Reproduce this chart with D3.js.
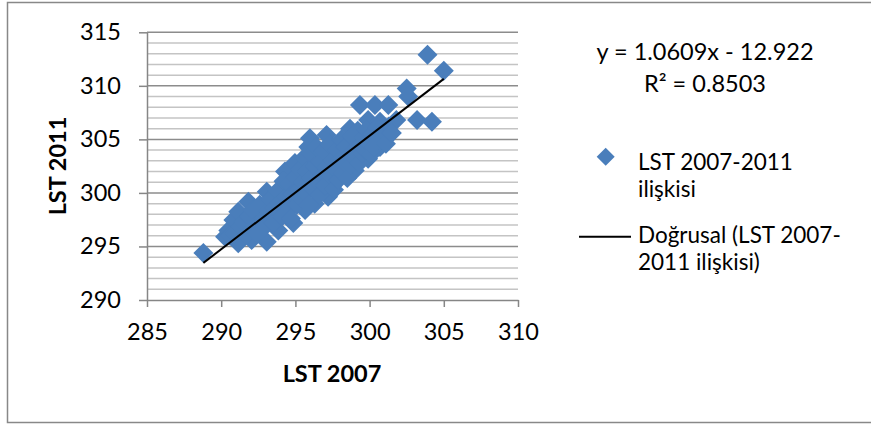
<!DOCTYPE html>
<html><head><meta charset="utf-8">
<script src="https://cdn.jsdelivr.net/npm/d3@7"></script>
<style>body{margin:0;background:#fff;}svg{display:block;font-family:Lato,"Open Sans",sans-serif;}</style>
</head><body>
<svg id="c" width="871" height="425"></svg>
<script>
const lst2007 = [288.8,290.26,290.48,290.82,291.15,291.83,293.07,294.3,294.97,295.87,295.98,297.1,298.68,299.35,300.36,301.26,299.9,302.5,302.6,301.8,303.2,304.2,305.0,303.9,300.7,301.0,300.7,
293.07,291.15,292.05,294.86,295.65,297.2,297.45,299.0,299.9,296.3,293.85,
290.6,290.9,291.3,291.5,291.7,291.9,292.1,292.3,292.4,292.6,292.8,292.9,293.2,293.3,293.5,293.6,293.8,293.9,294.1,294.2,294.4,294.5,294.6,294.7,294.8,295.0,295.1,295.2,295.3,295.4,295.5,295.6,295.7,295.8,295.9,296.0,296.1,296.2,296.3,296.4,296.5,296.6,296.7,296.8,296.9,297.0,297.1,297.3,297.4,297.5,297.6,297.7,297.8,297.9,298.0,298.1,298.2,298.3,298.4,298.5,298.6,298.7,298.8,298.9,299.1,299.2,299.3,299.4,299.5,299.6,299.7,299.8,300.0,300.1,300.2,300.3,300.5,300.6,300.9,301.1,301.3,301.5];
const lst2011 = [294.4,295.9,296.5,297.47,298.25,299.18,300.1,302.0,302.8,304.3,305.1,305.4,306.0,308.2,308.2,308.2,306.8,309.75,309.0,306.8,306.8,306.65,311.4,312.9,306.65,305.1,304.3,
295.45,295.3,295.6,297.2,298.4,299.65,300.6,302.1,303.2,299.0,296.5,
296.0,296.2,296.8,297.3,296.1,297.8,298.4,297.0,296.2,298.9,297.6,296.8,298.3,299.4,297.2,298.6,300.2,299.0,297.8,301.1,299.6,298.3,300.8,297.6,299.9,301.5,298.9,300.3,302.2,299.5,301.0,303.3,300.0,302.0,298.9,301.4,303.6,300.4,302.5,304.3,301.0,299.8,302.9,301.6,303.9,300.7,302.4,304.6,301.5,303.1,300.3,302.2,304.0,301.2,303.0,305.0,301.8,302.9,304.3,301.4,303.5,302.6,305.3,303.9,303.1,305.8,302.8,304.5,303.7,305.2,304.0,305.9,304.6,303.6,305.5,304.3,306.1,305.0,305.8,304.6,306.2,305.6];
const trendSlope = 1.0609, trendIntercept = -12.922;
const xTicks = [285,290,295,300,305,310];
const yTicks = [290,295,300,305,310,315];
const eqLabel = "y = 1.0609x - 12.922";
const r2Label = "R² = 0.8503";
const seriesName = ["LST 2007-2011", "ilişkisi"];
const trendName = ["Doğrusal (LST 2007-", "2011 ilişkisi)"];
const xTitle = "LST 2007", yTitle = "LST 2011";

const svg = d3.select("#c");
svg.append("rect").attr("x",7.5).attr("y",2.5).attr("width",900).attr("height",420)
  .attr("fill","#fff").attr("stroke","#888").attr("stroke-width",1.5);

const x = d3.scaleLinear().domain([285,310]).range([147,518]);
const y = d3.scaleLinear().domain([290,315]).range([300,32.3]);

// gridlines
const minor = d3.range(291,316,1).filter(v=>v%5!==0);
svg.append("g").selectAll("line").data(minor).join("line")
  .attr("x1",x(285)).attr("x2",x(310)).attr("y1",d=>y(d)).attr("y2",d=>y(d))
  .attr("stroke","#c4c4c4").attr("stroke-width",1.5);
svg.append("g").selectAll("line").data(yTicks.filter(v=>v!==290)).join("line")
  .attr("x1",x(285)).attr("x2",x(310)).attr("y1",d=>y(d)).attr("y2",d=>y(d))
  .attr("stroke","#8c8c8c").attr("stroke-width",1.5);

// axes
const fs = 23.5, lfs = 22.5;
const gy = svg.append("g").attr("transform",`translate(${x(285)},0)`)
  .call(d3.axisLeft(y).tickValues(yTicks).tickSize(8).tickPadding(18).tickSizeOuter(0));
const gx = svg.append("g").attr("transform",`translate(0,${y(290)})`)
  .call(d3.axisBottom(x).tickValues(xTicks).tickSize(7).tickPadding(16).tickSizeOuter(0));
[gx,gy].forEach(g=>{
  g.select(".domain").attr("stroke","#868686").attr("stroke-width",1.5);
  g.selectAll(".tick line").attr("stroke","#868686").attr("stroke-width",1.5);
  g.selectAll(".tick text").attr("font-size",fs).attr("fill","#000").attr("font-family","Lato");
});

// points
const pts = lst2007.map((v,i)=>({x:v,y:lst2011[i]}));
const sym = d3.symbol().type(d3.symbolSquare).size(200);
svg.append("g").selectAll("path").data(pts).join("path")
  .attr("d",sym).attr("transform",d=>`translate(${x(d.x)},${y(d.y)}) rotate(45)`)
  .attr("fill","#4a7ebb");

// trendline
const ext = d3.extent(lst2007);
svg.append("line").attr("x1",x(ext[0])).attr("y1",y(trendSlope*ext[0]+trendIntercept))
  .attr("x2",x(ext[1])).attr("y2",y(trendSlope*ext[1]+trendIntercept))
  .attr("stroke","#000").attr("stroke-width",2);

// titles
svg.append("text").attr("x",332).attr("y",382).attr("text-anchor","middle")
  .attr("font-size",fs).attr("font-weight","bold").text(xTitle);
svg.append("text").attr("transform","translate(66,166) rotate(-90)").attr("text-anchor","middle")
  .attr("font-size",fs).attr("font-weight","bold").text(yTitle);

// equation
svg.append("text").attr("x",705).attr("y",60).attr("text-anchor","middle").attr("font-size",fs).text(eqLabel);
svg.append("text").attr("x",705).attr("y",92).attr("text-anchor","middle").attr("font-size",fs).text(r2Label);

// legend
svg.append("path").attr("d",d3.symbol().type(d3.symbolSquare).size(162))
  .attr("transform","translate(605.7,156.7) rotate(45)").attr("fill","#4a7ebb");
svg.append("text").attr("x",638).attr("y",170).attr("font-size",lfs).text(seriesName[0]);
svg.append("text").attr("x",638).attr("y",197).attr("font-size",lfs).text(seriesName[1]);
svg.append("line").attr("x1",579).attr("x2",631).attr("y1",236.7).attr("y2",236.7).attr("stroke","#000").attr("stroke-width",2);
svg.append("text").attr("x",638).attr("y",243).attr("font-size",lfs).text(trendName[0]);
svg.append("text").attr("x",638).attr("y",270).attr("font-size",lfs).text(trendName[1]);
</script>
</body></html>
